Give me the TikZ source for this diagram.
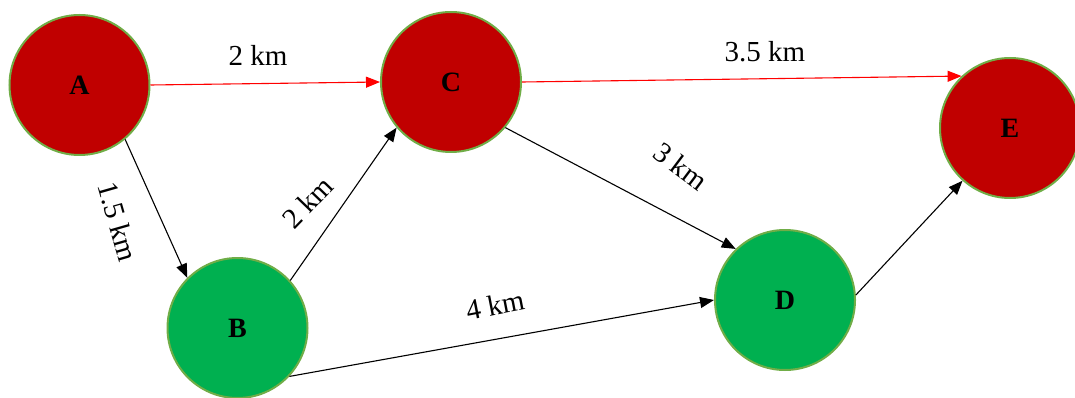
\documentclass[tikz,border=0pt]{standalone}
\usepackage{fontspec}
\setmainfont{Liberation Serif}
\usetikzlibrary{arrows.meta}
\definecolor{stopred}{HTML}{C00000}
\definecolor{stopgreen}{HTML}{00B050}
\definecolor{rimgreen}{HTML}{70AD47}

\begin{document}
\begin{tikzpicture}[x=1pt,y=-1pt,line width=1.1pt,>={Triangle[length=14pt,width=11pt]},
  town/.style={circle,minimum size=140pt,inner sep=0pt,draw=rimgreen,line width=2pt,
    font=\fontsize{28}{32}\selectfont\bfseries},
  redtown/.style={town,fill=stopred},
  greentown/.style={town,fill=stopgreen},
  road/.style={->,black},
  fastroad/.style={->,red},
  dist/.style={font=\fontsize{29}{34}\selectfont,inner sep=0pt}]
\useasboundingbox (0,0) rectangle (1075,398);
% ================= towns =================
\node[redtown] (A) at (79.5,85) {A};
\node[redtown] (C) at (451,82) {C};
\node[redtown] (E) at (1010,128) {E};
\node[greentown] (B) at (237.5,328) {B};
\node[greentown] (D) at (785,300) {D};
% ================= roads =================
\draw[fastroad] (A.east) -- (C.west);
\draw[fastroad] (C.east) -- (E.133);
\draw[road] (A.-50) -- (B.135);
\draw[road] (B.42) -- (C.220);
\draw[road] (C.-40) -- (D.134);
\draw[road] (B.-43) -- (D.180);
\draw[road] (D.4) -- (E.228);
% ================= distances =================
\node[dist] (lAC) at (258,55) {2 km};
\node[dist] (lCE) at (765,52) {3.5 km};
\node[dist,rotate=-74] (lAB) at (118,222) {1.5 km};
\node[dist,rotate=46] (lBC) at (308,202) {2 km};
\node[dist,rotate=-37] (lCD) at (681,166) {3 km};
\node[dist,rotate=11] (lBD) at (495,305) {4 km};
\end{tikzpicture}
\end{document}
